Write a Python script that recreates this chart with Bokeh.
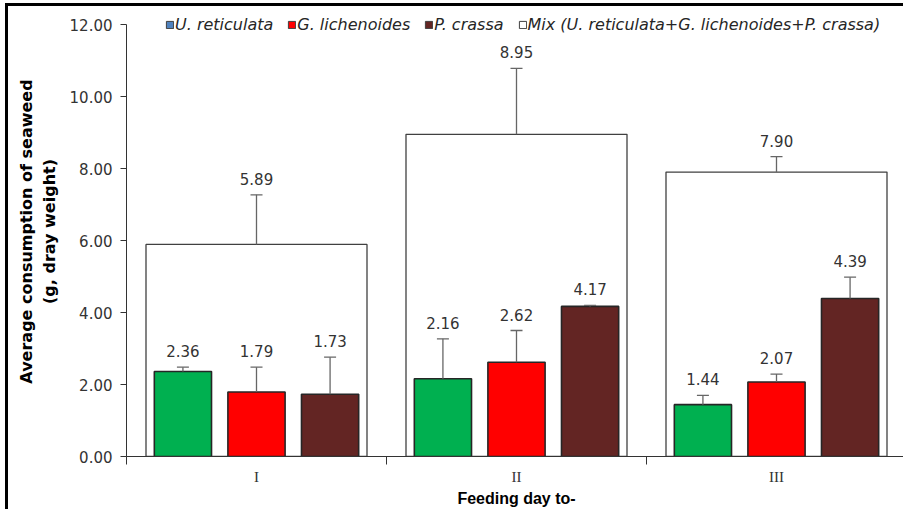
from bokeh.plotting import figure
from bokeh.models import (ColumnDataSource, Range1d, FixedTicker, Whisker, TeeHead,
                          Legend, LegendItem, PrintfTickFormatter)
from bokeh.core.properties import value
from bokeh.embed import file_html
from bokeh.resources import INLINE

# ---- data ----
days = ["I", "II", "III"]
u_reticulata = [2.36, 2.16, 1.44]
g_lichenoides = [1.79, 2.62, 2.07]
p_crassa = [1.73, 4.17, 4.39]
mix = [5.89, 8.95, 7.90]
err_u = [0.12, 1.11, 0.26]
err_g = [0.69, 0.88, 0.22]
err_p = [1.03, 0.03, 0.59]
err_mix = [1.38, 1.83, 0.43]
y_ticks = [0, 2, 4, 6, 8, 10, 12]
legend_labels = ["U. reticulata", "G. lichenoides", "P. crassa",
                 "Mix (U. reticulata+G. lichenoides+P. crassa)"]

# ---- styles ----
C_U, C_G, C_P, C_MIX = "#00b050", "#ff0000", "#632523", "#ffffff"
LEG_U = "#4f81bd"
OFF = [-0.283, 0.0, 0.283]
W_SMALL = 0.22
W_MIX = 0.85
FONT = "DejaVu Sans"
ERR_COL = "#666666"
NAN = float("nan")

centers = [i + 0.5 for i in range(len(days))]

p = figure(width=898, height=506, output_backend="svg", toolbar_location=None,
           x_range=Range1d(0, 3), y_range=Range1d(0, 12.5),
           min_border_left=118, min_border_right=0, min_border_top=0,
           min_border_bottom=56)
p.styles = {"margin-left": "5px", "margin-top": "3px",
            "border-left": "3px solid black", "border-top": "3px solid black"}
p.outline_line_color = None
p.xgrid.visible = False
p.ygrid.visible = False
p.background_fill_color = "white"


def make_src(vals, errs, off):
    xs = [c + off for c in centers]
    ups = [v + e for v, e in zip(vals, errs)]
    return ColumnDataSource(dict(x=xs, top=vals, up=ups,
                                 lab=["%.2f" % v for v in vals]))


def add_whisker(src):
    p.add_layout(Whisker(source=src, base="x", lower="top", upper="up",
                         dimension="height", line_color=ERR_COL, line_width=1.3,
                         upper_head=TeeHead(size=12, line_color=ERR_COL, line_width=1.3),
                         lower_head=None, level="annotation"))


# mix bars (behind)
src_mix = make_src(mix, err_mix, 0.0)
p.vbar(x="x", top="top", width=W_MIX, bottom=0, source=src_mix,
       fill_color=C_MIX, line_color="#404040", line_width=1.3)

series = [(u_reticulata, err_u, C_U), (g_lichenoides, err_g, C_G), (p_crassa, err_p, C_P)]
srcs = [src_mix]
for (vals, errs, col), off in zip(series, OFF):
    s = make_src(vals, errs, off)
    srcs.append(s)
    p.vbar(x="x", top="top", width=W_SMALL, bottom=0, source=s,
           fill_color=col, line_color="#262626", line_width=1.6)

for s in srcs:
    add_whisker(s)
    p.text(x="x", y="up", text="lab", source=s, text_align="center",
           text_baseline="middle", y_offset=-16, text_font=value(FONT),
           text_font_size="15px", text_color="#333333")

# legend (its swatches use the original legend colours)
leg_cols = [LEG_U, C_G, C_P, C_MIX]
items = []
for lab, col in zip(legend_labels, leg_cols):
    r = p.vbar(x=[NAN], top=[NAN], width=0.1, fill_color=col, line_color="#404040",
               line_width=1)
    items.append(LegendItem(label=lab, renderers=[r]))
legend = Legend(items=items, orientation="horizontal", location=(37, 420),
                glyph_width=9, glyph_height=9, label_standoff=1, spacing=14,
                padding=2, margin=0, border_line_alpha=0, background_fill_alpha=0,
                label_text_font=FONT, label_text_font_style="italic",
                label_text_font_size="16px", label_text_color="#262626")
p.add_layout(legend, "center")

# axes
yax = p.yaxis[0]
yax.ticker = FixedTicker(ticks=y_ticks)
yax.bounds = (0, 12)
yax.formatter = PrintfTickFormatter(format="%.2f")
yax.major_label_text_font = FONT
yax.major_label_text_font_size = "15px"
yax.major_label_text_color = "#333333"
yax.major_tick_out = 6
yax.major_tick_in = 0
yax.minor_tick_line_color = None
yax.axis_line_color = "#333333"
yax.major_tick_line_color = "#333333"
yax.major_label_standoff = 8
yax.axis_label = "Average consumption of seaweed\n(g, dray weight)"
yax.axis_label_text_font = FONT
yax.axis_label_text_font_style = "bold"
yax.axis_label_text_font_size = "16px"
yax.axis_label_text_color = "#000000"
yax.axis_label_standoff = 8

xax = p.xaxis[0]
xax.ticker = FixedTicker(ticks=centers, minor_ticks=[0, 1, 2, 3])
xax.major_label_overrides = {c: d for c, d in zip(centers, days)}
xax.major_tick_out = 0
xax.major_tick_in = 0
xax.minor_tick_out = 8
xax.minor_tick_in = 0
xax.minor_tick_line_color = "#333333"
xax.axis_line_color = "#333333"
xax.major_label_text_font = "Liberation Serif"
xax.major_label_text_font_size = "15px"
xax.major_label_text_color = "#333333"
xax.major_label_standoff = 4
xax.axis_label = "Feeding day to-"
xax.axis_label_text_font = "Liberation Sans"
xax.axis_label_text_font_style = "bold"
xax.axis_label_text_font_size = "16px"
xax.axis_label_text_color = "#000000"
xax.axis_label_standoff = 2

open("out.html", "w").write(file_html(p, INLINE))
